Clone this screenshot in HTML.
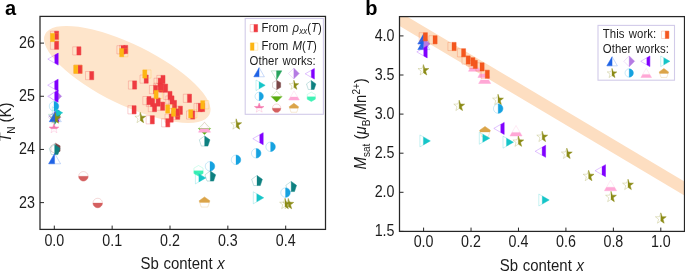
<!DOCTYPE html>
<html><head><meta charset="utf-8"><style>
html,body{margin:0;padding:0;background:#fff;}
body{width:685px;height:271px;overflow:hidden;font-family:"Liberation Sans",sans-serif;}
svg{display:block;will-change:transform;}
</style></head><body>
<svg width="685" height="271" viewBox="0 0 685 271">
<defs><clipPath id="ca"><rect x="40" y="16" width="286" height="213"/></clipPath><clipPath id="cb"><rect x="400" y="17" width="284" height="214"/></clipPath></defs>
<g clip-path="url(#ca)">
<ellipse cx="127.29" cy="74.39" rx="91.5" ry="30.19" transform="rotate(26.08 127.29 74.39)" fill="#fee5cb"/>
</g>
<polygon points="50.40,31.20 58.60,31.20 58.60,39.40 50.40,39.40" fill="none" stroke="#ee3a40" stroke-width="0.80" stroke-opacity="0.3"/><polygon points="54.50,31.20 58.60,31.20 58.60,39.40 54.50,39.40" fill="#ee3a40" stroke="#ee3a40" stroke-width="0.3"/>
<polygon points="50.40,41.10 58.60,41.10 58.60,49.30 50.40,49.30" fill="none" stroke="#ee3a40" stroke-width="0.80" stroke-opacity="0.3"/><polygon points="54.50,41.10 58.60,41.10 58.60,49.30 54.50,49.30" fill="#ee3a40" stroke="#ee3a40" stroke-width="0.3"/>
<polygon points="72.70,46.80 80.90,46.80 80.90,55.00 72.70,55.00" fill="none" stroke="#ee3a40" stroke-width="0.80" stroke-opacity="0.3"/><polygon points="76.80,46.80 80.90,46.80 80.90,55.00 76.80,55.00" fill="#ee3a40" stroke="#ee3a40" stroke-width="0.3"/>
<polygon points="73.90,65.20 82.10,65.20 82.10,73.40 73.90,73.40" fill="none" stroke="#ee3a40" stroke-width="0.80" stroke-opacity="0.3"/><polygon points="78.00,65.20 82.10,65.20 82.10,73.40 78.00,73.40" fill="#ee3a40" stroke="#ee3a40" stroke-width="0.3"/>
<polygon points="85.50,71.50 93.70,71.50 93.70,79.70 85.50,79.70" fill="none" stroke="#ee3a40" stroke-width="0.80" stroke-opacity="0.3"/><polygon points="89.60,71.50 93.70,71.50 93.70,79.70 89.60,79.70" fill="#ee3a40" stroke="#ee3a40" stroke-width="0.3"/>
<polygon points="116.90,45.70 125.10,45.70 125.10,53.90 116.90,53.90" fill="none" stroke="#ee3a40" stroke-width="0.80" stroke-opacity="0.3"/><polygon points="121.00,45.70 125.10,45.70 125.10,53.90 121.00,53.90" fill="#ee3a40" stroke="#ee3a40" stroke-width="0.3"/>
<polygon points="119.50,45.40 127.70,45.40 127.70,53.60 119.50,53.60" fill="none" stroke="#ee3a40" stroke-width="0.80" stroke-opacity="0.3"/><polygon points="123.60,45.40 127.70,45.40 127.70,53.60 123.60,53.60" fill="#ee3a40" stroke="#ee3a40" stroke-width="0.3"/>
<polygon points="128.40,80.90 136.60,80.90 136.60,89.10 128.40,89.10" fill="none" stroke="#ee3a40" stroke-width="0.80" stroke-opacity="0.3"/><polygon points="132.50,80.90 136.60,80.90 136.60,89.10 132.50,89.10" fill="#ee3a40" stroke="#ee3a40" stroke-width="0.3"/>
<polygon points="127.90,105.70 136.10,105.70 136.10,113.90 127.90,113.90" fill="none" stroke="#ee3a40" stroke-width="0.80" stroke-opacity="0.3"/><polygon points="132.00,105.70 136.10,105.70 136.10,113.90 132.00,113.90" fill="#ee3a40" stroke="#ee3a40" stroke-width="0.3"/>
<polygon points="140.00,75.00 148.20,75.00 148.20,83.20 140.00,83.20" fill="none" stroke="#ee3a40" stroke-width="0.80" stroke-opacity="0.3"/><polygon points="144.10,75.00 148.20,75.00 148.20,83.20 144.10,83.20" fill="#ee3a40" stroke="#ee3a40" stroke-width="0.3"/>
<polygon points="142.80,96.50 151.00,96.50 151.00,104.70 142.80,104.70" fill="none" stroke="#ee3a40" stroke-width="0.80" stroke-opacity="0.3"/><polygon points="146.90,96.50 151.00,96.50 151.00,104.70 146.90,104.70" fill="#ee3a40" stroke="#ee3a40" stroke-width="0.3"/>
<polygon points="146.40,98.40 154.60,98.40 154.60,106.60 146.40,106.60" fill="none" stroke="#ee3a40" stroke-width="0.80" stroke-opacity="0.3"/><polygon points="150.50,98.40 154.60,98.40 154.60,106.60 150.50,106.60" fill="#ee3a40" stroke="#ee3a40" stroke-width="0.3"/>
<polygon points="148.30,103.50 156.50,103.50 156.50,111.70 148.30,111.70" fill="none" stroke="#ee3a40" stroke-width="0.80" stroke-opacity="0.3"/><polygon points="152.40,103.50 156.50,103.50 156.50,111.70 152.40,111.70" fill="#ee3a40" stroke="#ee3a40" stroke-width="0.3"/>
<polygon points="152.00,98.00 160.20,98.00 160.20,106.20 152.00,106.20" fill="none" stroke="#ee3a40" stroke-width="0.80" stroke-opacity="0.3"/><polygon points="156.10,98.00 160.20,98.00 160.20,106.20 156.10,106.20" fill="#ee3a40" stroke="#ee3a40" stroke-width="0.3"/>
<polygon points="156.40,102.10 164.60,102.10 164.60,110.30 156.40,110.30" fill="none" stroke="#ee3a40" stroke-width="0.80" stroke-opacity="0.3"/><polygon points="160.50,102.10 164.60,102.10 164.60,110.30 160.50,110.30" fill="#ee3a40" stroke="#ee3a40" stroke-width="0.3"/>
<polygon points="146.10,115.70 154.30,115.70 154.30,123.90 146.10,123.90" fill="none" stroke="#ee3a40" stroke-width="0.80" stroke-opacity="0.3"/><polygon points="150.20,115.70 154.30,115.70 154.30,123.90 150.20,123.90" fill="#ee3a40" stroke="#ee3a40" stroke-width="0.3"/>
<polygon points="165.00,114.00 173.20,114.00 173.20,122.20 165.00,122.20" fill="none" stroke="#ee3a40" stroke-width="0.80" stroke-opacity="0.3"/><polygon points="169.10,114.00 173.20,114.00 173.20,122.20 169.10,122.20" fill="#ee3a40" stroke="#ee3a40" stroke-width="0.3"/>
<polygon points="154.00,78.20 162.20,78.20 162.20,86.40 154.00,86.40" fill="none" stroke="#ee3a40" stroke-width="0.80" stroke-opacity="0.3"/><polygon points="158.10,78.20 162.20,78.20 162.20,86.40 158.10,86.40" fill="#ee3a40" stroke="#ee3a40" stroke-width="0.3"/>
<polygon points="154.00,83.20 162.20,83.20 162.20,91.40 154.00,91.40" fill="none" stroke="#ee3a40" stroke-width="0.80" stroke-opacity="0.3"/><polygon points="158.10,83.20 162.20,83.20 162.20,91.40 158.10,91.40" fill="#ee3a40" stroke="#ee3a40" stroke-width="0.3"/>
<polygon points="156.80,75.40 165.00,75.40 165.00,83.60 156.80,83.60" fill="none" stroke="#ee3a40" stroke-width="0.80" stroke-opacity="0.3"/><polygon points="160.90,75.40 165.00,75.40 165.00,83.60 160.90,83.60" fill="#ee3a40" stroke="#ee3a40" stroke-width="0.3"/>
<polygon points="155.50,83.90 163.70,83.90 163.70,92.10 155.50,92.10" fill="none" stroke="#ee3a40" stroke-width="0.80" stroke-opacity="0.3"/><polygon points="159.60,83.90 163.70,83.90 163.70,92.10 159.60,92.10" fill="#ee3a40" stroke="#ee3a40" stroke-width="0.3"/>
<polygon points="159.40,84.10 167.60,84.10 167.60,92.30 159.40,92.30" fill="none" stroke="#ee3a40" stroke-width="0.80" stroke-opacity="0.3"/><polygon points="163.50,84.10 167.60,84.10 167.60,92.30 163.50,92.30" fill="#ee3a40" stroke="#ee3a40" stroke-width="0.3"/>
<polygon points="149.40,85.50 157.60,85.50 157.60,93.70 149.40,93.70" fill="none" stroke="#ee3a40" stroke-width="0.80" stroke-opacity="0.3"/><polygon points="153.50,85.50 157.60,85.50 157.60,93.70 153.50,93.70" fill="#ee3a40" stroke="#ee3a40" stroke-width="0.3"/>
<polygon points="163.80,91.40 172.00,91.40 172.00,99.60 163.80,99.60" fill="none" stroke="#ee3a40" stroke-width="0.80" stroke-opacity="0.3"/><polygon points="167.90,91.40 172.00,91.40 172.00,99.60 167.90,99.60" fill="#ee3a40" stroke="#ee3a40" stroke-width="0.3"/>
<polygon points="165.80,95.90 174.00,95.90 174.00,104.10 165.80,104.10" fill="none" stroke="#ee3a40" stroke-width="0.80" stroke-opacity="0.3"/><polygon points="169.90,95.90 174.00,95.90 174.00,104.10 169.90,104.10" fill="#ee3a40" stroke="#ee3a40" stroke-width="0.3"/>
<polygon points="168.30,100.40 176.50,100.40 176.50,108.60 168.30,108.60" fill="none" stroke="#ee3a40" stroke-width="0.80" stroke-opacity="0.3"/><polygon points="172.40,100.40 176.50,100.40 176.50,108.60 172.40,108.60" fill="#ee3a40" stroke="#ee3a40" stroke-width="0.3"/>
<polygon points="171.50,108.90 179.70,108.90 179.70,117.10 171.50,117.10" fill="none" stroke="#ee3a40" stroke-width="0.80" stroke-opacity="0.3"/><polygon points="175.60,108.90 179.70,108.90 179.70,117.10 175.60,117.10" fill="#ee3a40" stroke="#ee3a40" stroke-width="0.3"/>
<polygon points="171.50,111.10 179.70,111.10 179.70,119.30 171.50,119.30" fill="none" stroke="#ee3a40" stroke-width="0.80" stroke-opacity="0.3"/><polygon points="175.60,111.10 179.70,111.10 179.70,119.30 175.60,119.30" fill="#ee3a40" stroke="#ee3a40" stroke-width="0.3"/>
<polygon points="174.20,106.20 182.40,106.20 182.40,114.40 174.20,114.40" fill="none" stroke="#ee3a40" stroke-width="0.80" stroke-opacity="0.3"/><polygon points="178.30,106.20 182.40,106.20 182.40,114.40 178.30,114.40" fill="#ee3a40" stroke="#ee3a40" stroke-width="0.3"/>
<polygon points="183.30,94.20 191.50,94.20 191.50,102.40 183.30,102.40" fill="none" stroke="#ee3a40" stroke-width="0.80" stroke-opacity="0.3"/><polygon points="187.40,94.20 191.50,94.20 191.50,102.40 187.40,102.40" fill="#ee3a40" stroke="#ee3a40" stroke-width="0.3"/>
<polygon points="186.50,110.90 194.70,110.90 194.70,119.10 186.50,119.10" fill="none" stroke="#ee3a40" stroke-width="0.80" stroke-opacity="0.3"/><polygon points="190.60,110.90 194.70,110.90 194.70,119.10 190.60,119.10" fill="#ee3a40" stroke="#ee3a40" stroke-width="0.3"/>
<polygon points="194.00,103.40 202.20,103.40 202.20,111.60 194.00,111.60" fill="none" stroke="#ee3a40" stroke-width="0.80" stroke-opacity="0.3"/><polygon points="198.10,103.40 202.20,103.40 202.20,111.60 198.10,111.60" fill="#ee3a40" stroke="#ee3a40" stroke-width="0.3"/>
<polygon points="196.40,103.40 204.60,103.40 204.60,111.60 196.40,111.60" fill="none" stroke="#ee3a40" stroke-width="0.80" stroke-opacity="0.3"/><polygon points="200.50,103.40 204.60,103.40 204.60,111.60 200.50,111.60" fill="#ee3a40" stroke="#ee3a40" stroke-width="0.3"/>
<polygon points="161.60,118.70 169.80,118.70 169.80,126.90 161.60,126.90" fill="none" stroke="#ee3a40" stroke-width="0.80" stroke-opacity="0.3"/><polygon points="165.70,118.70 169.80,118.70 169.80,126.90 165.70,126.90" fill="#ee3a40" stroke="#ee3a40" stroke-width="0.3"/>
<polygon points="50.50,33.40 58.70,33.40 58.70,41.60 50.50,41.60" fill="none" stroke="#fdb614" stroke-width="0.80" stroke-opacity="0.3"/><polygon points="50.50,33.40 54.60,33.40 54.60,41.60 50.50,41.60" fill="#fdb614" stroke="#fdb614" stroke-width="0.3"/>
<polygon points="73.80,65.20 82.00,65.20 82.00,73.40 73.80,73.40" fill="none" stroke="#fdb614" stroke-width="0.80" stroke-opacity="0.3"/><polygon points="73.80,65.20 77.90,65.20 77.90,73.40 73.80,73.40" fill="#fdb614" stroke="#fdb614" stroke-width="0.3"/>
<polygon points="119.70,48.60 127.90,48.60 127.90,56.80 119.70,56.80" fill="none" stroke="#fdb614" stroke-width="0.80" stroke-opacity="0.3"/><polygon points="119.70,48.60 123.80,48.60 123.80,56.80 119.70,56.80" fill="#fdb614" stroke="#fdb614" stroke-width="0.3"/>
<polygon points="142.80,69.90 151.00,69.90 151.00,78.10 142.80,78.10" fill="none" stroke="#fdb614" stroke-width="0.80" stroke-opacity="0.3"/><polygon points="142.80,69.90 146.90,69.90 146.90,78.10 142.80,78.10" fill="#fdb614" stroke="#fdb614" stroke-width="0.3"/>
<polygon points="154.10,90.40 162.30,90.40 162.30,98.60 154.10,98.60" fill="none" stroke="#fdb614" stroke-width="0.80" stroke-opacity="0.3"/><polygon points="154.10,90.40 158.20,90.40 158.20,98.60 154.10,98.60" fill="#fdb614" stroke="#fdb614" stroke-width="0.3"/>
<polygon points="165.70,104.90 173.90,104.90 173.90,113.10 165.70,113.10" fill="none" stroke="#fdb614" stroke-width="0.80" stroke-opacity="0.3"/><polygon points="165.70,104.90 169.80,104.90 169.80,113.10 165.70,113.10" fill="#fdb614" stroke="#fdb614" stroke-width="0.3"/>
<polygon points="171.50,108.10 179.70,108.10 179.70,116.30 171.50,116.30" fill="none" stroke="#fdb614" stroke-width="0.80" stroke-opacity="0.3"/><polygon points="171.50,108.10 175.60,108.10 175.60,116.30 171.50,116.30" fill="#fdb614" stroke="#fdb614" stroke-width="0.3"/>
<polygon points="188.70,109.70 196.90,109.70 196.90,117.90 188.70,117.90" fill="none" stroke="#fdb614" stroke-width="0.80" stroke-opacity="0.3"/><polygon points="188.70,109.70 192.80,109.70 192.80,117.90 188.70,117.90" fill="#fdb614" stroke="#fdb614" stroke-width="0.3"/>
<polygon points="200.70,100.70 208.90,100.70 208.90,108.90 200.70,108.90" fill="none" stroke="#fdb614" stroke-width="0.80" stroke-opacity="0.3"/><polygon points="200.70,100.70 204.80,100.70 204.80,108.90 200.70,108.90" fill="#fdb614" stroke="#fdb614" stroke-width="0.3"/>
<polygon points="47.80,59.10 58.20,53.10 58.20,65.10" fill="none" stroke="#8000ff" stroke-width="0.80" stroke-opacity="0.3"/><polygon points="54.73,55.10 58.20,53.10 58.20,65.10 54.73,63.10" fill="#8000ff" stroke="#8000ff" stroke-width="0.3"/>
<polygon points="47.70,85.20 58.10,79.20 58.10,91.20" fill="none" stroke="#8000ff" stroke-width="0.80" stroke-opacity="0.3"/><polygon points="54.63,81.20 58.10,79.20 58.10,91.20 54.63,89.20" fill="#8000ff" stroke="#8000ff" stroke-width="0.3"/>
<polygon points="55.50,90.20 61.60,96.30 55.50,102.40 49.40,96.30" fill="none" stroke="#b57be3" stroke-width="0.80" stroke-opacity="0.3"/><polygon points="55.50,90.20 61.60,96.30 55.50,102.40 55.50,102.40 55.50,90.20" fill="#b57be3" stroke="#b57be3" stroke-width="0.3"/>
<polygon points="47.70,96.30 58.10,90.30 58.10,102.30" fill="none" stroke="#8000ff" stroke-width="0.80" stroke-opacity="0.3"/><polygon points="54.63,92.30 58.10,90.30 58.10,102.30 54.63,100.30" fill="#8000ff" stroke="#8000ff" stroke-width="0.3"/>
<polygon points="48.60,116.00 59.00,110.00 59.00,122.00" fill="none" stroke="#8000ff" stroke-width="0.80" stroke-opacity="0.3"/><polygon points="55.53,112.00 59.00,110.00 59.00,122.00 55.53,120.00" fill="#8000ff" stroke="#8000ff" stroke-width="0.3"/>
<polygon points="54.60,111.40 60.70,117.50 54.60,123.60 48.50,117.50" fill="none" stroke="#b57be3" stroke-width="0.80" stroke-opacity="0.3"/><polygon points="54.60,111.40 60.70,117.50 54.60,123.60 54.60,123.60 54.60,111.40" fill="#b57be3" stroke="#b57be3" stroke-width="0.3"/>
<polygon points="48.60,114.30 60.60,114.30 54.60,124.70" fill="none" stroke="#27a35c" stroke-width="0.80" stroke-opacity="0.3"/><polygon points="54.60,114.30 60.60,114.30 54.60,124.70 54.60,124.70" fill="#27a35c" stroke="#27a35c" stroke-width="0.3"/>
<polygon points="58.70,106.30 58.64,107.04 58.47,107.75 58.19,108.43 57.80,109.06 57.32,109.62 56.76,110.10 56.13,110.49 55.45,110.77 54.74,110.94 54.00,111.00 53.26,110.94 52.55,110.77 51.87,110.49 51.24,110.10 50.68,109.62 50.20,109.06 49.81,108.43 49.53,107.75 49.36,107.04 49.30,106.30 49.36,105.56 49.53,104.85 49.81,104.17 50.20,103.54 50.68,102.98 51.24,102.50 51.87,102.11 52.55,101.83 53.26,101.66 54.00,101.60 54.74,101.66 55.45,101.83 56.13,102.11 56.76,102.50 57.32,102.98 57.80,103.54 58.19,104.17 58.47,104.85 58.64,105.56" fill="none" stroke="#16a2e0" stroke-width="0.80" stroke-opacity="0.3"/><polygon points="58.70,106.30 58.64,107.04 58.47,107.75 58.19,108.43 57.80,109.06 57.32,109.62 56.76,110.10 56.13,110.49 55.45,110.77 54.74,110.94 54.00,111.00 54.00,111.00 54.00,101.60 54.00,101.60 54.74,101.66 55.45,101.83 56.13,102.11 56.76,102.50 57.32,102.98 57.80,103.54 58.19,104.17 58.47,104.85 58.64,105.56" fill="#16a2e0" stroke="#16a2e0" stroke-width="0.3"/>
<polygon points="52.30,106.80 62.70,112.80 52.30,118.80" fill="none" stroke="#15c5c8" stroke-width="0.80" stroke-opacity="0.3"/><polygon points="55.77,108.80 62.70,112.80 55.77,116.80" fill="#15c5c8" stroke="#15c5c8" stroke-width="0.3"/>
<polygon points="55.30,111.30 61.30,121.70 49.30,121.70" fill="none" stroke="#1f63e6" stroke-width="0.80" stroke-opacity="0.3"/><polygon points="55.30,111.30 55.30,111.30 55.30,121.70 49.30,121.70" fill="#1f63e6" stroke="#1f63e6" stroke-width="0.3"/>
<polygon points="55.20,112.84 56.57,116.65 60.62,116.78 57.42,119.27 58.55,123.16 55.20,120.88 51.85,123.16 52.98,119.27 49.78,116.78 53.83,116.65" fill="none" stroke="#8b8b16" stroke-width="0.80" stroke-opacity="0.3"/><polygon points="55.20,112.84 56.57,116.65 60.62,116.78 57.42,119.27 58.55,123.16 55.20,120.88 55.20,120.88 55.20,112.84" fill="#8b8b16" stroke="#8b8b16" stroke-width="0.3"/>
<polygon points="54.00,123.66 55.21,127.02 58.77,127.13 55.96,129.31 56.95,132.74 54.00,130.74 51.05,132.74 52.04,129.31 49.23,127.13 52.79,127.02" fill="none" stroke="#f578ae" stroke-width="0.80" stroke-opacity="0.3"/><polygon points="54.00,123.66 55.21,127.02 58.77,127.13 56.77,128.68 51.23,128.68 49.23,127.13 52.79,127.02" fill="#f578ae" stroke="#f578ae" stroke-width="0.3"/>
<polygon points="55.50,143.20 60.09,145.85 60.09,151.15 55.50,153.80 50.91,151.15 50.91,145.85" fill="none" stroke="#7b4646" stroke-width="0.80" stroke-opacity="0.3"/><polygon points="55.50,143.20 60.09,145.85 60.09,151.15 55.50,153.80 55.50,153.80 55.50,143.20" fill="#7b4646" stroke="#7b4646" stroke-width="0.3"/>
<polygon points="54.60,144.43 59.93,148.30 57.89,154.57 51.31,154.57 49.27,148.30" fill="none" stroke="#0e8080" stroke-width="0.80" stroke-opacity="0.3"/><polygon points="54.60,144.43 59.93,148.30 57.89,154.57 54.60,154.57 54.60,144.43" fill="#0e8080" stroke="#0e8080" stroke-width="0.3"/>
<polygon points="54.60,153.40 60.60,163.80 48.60,163.80" fill="none" stroke="#1f63e6" stroke-width="0.80" stroke-opacity="0.3"/><polygon points="54.60,153.40 54.60,153.40 54.60,163.80 48.60,163.80" fill="#1f63e6" stroke="#1f63e6" stroke-width="0.3"/>
<polygon points="88.10,176.30 88.04,177.04 87.87,177.75 87.59,178.43 87.20,179.06 86.72,179.62 86.16,180.10 85.53,180.49 84.85,180.77 84.14,180.94 83.40,181.00 82.66,180.94 81.95,180.77 81.27,180.49 80.64,180.10 80.08,179.62 79.60,179.06 79.21,178.43 78.93,177.75 78.76,177.04 78.70,176.30 78.76,175.56 78.93,174.85 79.21,174.17 79.60,173.54 80.08,172.98 80.64,172.50 81.27,172.11 81.95,171.83 82.66,171.66 83.40,171.60 84.14,171.66 84.85,171.83 85.53,172.11 86.16,172.50 86.72,172.98 87.20,173.54 87.59,174.17 87.87,174.85 88.04,175.56" fill="none" stroke="#d45f5f" stroke-width="0.80" stroke-opacity="0.3"/><polygon points="88.10,176.30 88.04,177.04 87.87,177.75 87.59,178.43 87.20,179.06 86.72,179.62 86.16,180.10 85.53,180.49 84.85,180.77 84.14,180.94 83.40,181.00 82.66,180.94 81.95,180.77 81.27,180.49 80.64,180.10 80.08,179.62 79.60,179.06 79.21,178.43 78.93,177.75 78.76,177.04 78.70,176.30 78.70,176.30 88.10,176.30" fill="#d45f5f" stroke="#d45f5f" stroke-width="0.3"/>
<polygon points="102.40,203.00 102.34,203.74 102.17,204.45 101.89,205.13 101.50,205.76 101.02,206.32 100.46,206.80 99.83,207.19 99.15,207.47 98.44,207.64 97.70,207.70 96.96,207.64 96.25,207.47 95.57,207.19 94.94,206.80 94.38,206.32 93.90,205.76 93.51,205.13 93.23,204.45 93.06,203.74 93.00,203.00 93.06,202.26 93.23,201.55 93.51,200.87 93.90,200.24 94.38,199.68 94.94,199.20 95.57,198.81 96.25,198.53 96.96,198.36 97.70,198.30 98.44,198.36 99.15,198.53 99.83,198.81 100.46,199.20 101.02,199.68 101.50,200.24 101.89,200.87 102.17,201.55 102.34,202.26" fill="none" stroke="#d45f5f" stroke-width="0.80" stroke-opacity="0.3"/><polygon points="102.40,203.00 102.34,203.74 102.17,204.45 101.89,205.13 101.50,205.76 101.02,206.32 100.46,206.80 99.83,207.19 99.15,207.47 98.44,207.64 97.70,207.70 96.96,207.64 96.25,207.47 95.57,207.19 94.94,206.80 94.38,206.32 93.90,205.76 93.51,205.13 93.23,204.45 93.06,203.74 93.00,203.00 93.00,203.00 102.40,203.00" fill="#d45f5f" stroke="#d45f5f" stroke-width="0.3"/>
<polygon points="140.30,112.34 141.67,116.15 145.72,116.28 142.52,118.77 143.65,122.66 140.30,120.38 136.95,122.66 138.08,118.77 134.88,116.28 138.93,116.15" fill="none" stroke="#8b8b16" stroke-width="0.80" stroke-opacity="0.3"/><polygon points="140.30,112.34 141.67,116.15 145.72,116.28 142.52,118.77 143.65,122.66 140.30,120.38 140.30,120.38 140.30,112.34" fill="#8b8b16" stroke="#8b8b16" stroke-width="0.3"/>
<polygon points="204.50,122.40 210.60,128.50 204.50,134.60 198.40,128.50" fill="none" stroke="#5aad0f" stroke-width="0.80" stroke-opacity="0.3"/><polygon points="210.60,128.50 210.60,128.50 204.50,134.60 198.40,128.50 198.40,128.50" fill="#5aad0f" stroke="#5aad0f" stroke-width="0.3"/>
<polygon points="204.50,121.80 210.50,132.20 198.50,132.20" fill="none" stroke="#ffa8d6" stroke-width="0.80" stroke-opacity="0.3"/><polygon points="208.50,128.73 210.50,132.20 198.50,132.20 200.50,128.73" fill="#ffa8d6" stroke="#ffa8d6" stroke-width="0.3"/>
<polygon points="204.60,135.93 209.93,139.80 207.89,146.07 201.31,146.07 199.27,139.80" fill="none" stroke="#0e8080" stroke-width="0.80" stroke-opacity="0.3"/><polygon points="204.60,135.93 209.93,139.80 207.89,146.07 204.60,146.07 204.60,135.93" fill="#0e8080" stroke="#0e8080" stroke-width="0.3"/>
<polygon points="236.20,118.84 237.57,122.65 241.62,122.78 238.42,125.27 239.55,129.16 236.20,126.88 232.85,129.16 233.98,125.27 230.78,122.78 234.83,122.65" fill="none" stroke="#8b8b16" stroke-width="0.80" stroke-opacity="0.3"/><polygon points="236.20,118.84 237.57,122.65 241.62,122.78 238.42,125.27 239.55,129.16 236.20,126.88 236.20,126.88 236.20,118.84" fill="#8b8b16" stroke="#8b8b16" stroke-width="0.3"/>
<polygon points="252.80,138.70 263.20,132.70 263.20,144.70" fill="none" stroke="#8000ff" stroke-width="0.80" stroke-opacity="0.3"/><polygon points="259.73,134.70 263.20,132.70 263.20,144.70 259.73,142.70" fill="#8000ff" stroke="#8000ff" stroke-width="0.3"/>
<polygon points="275.30,146.80 275.24,147.54 275.07,148.25 274.79,148.93 274.40,149.56 273.92,150.12 273.36,150.60 272.73,150.99 272.05,151.27 271.34,151.44 270.60,151.50 269.86,151.44 269.15,151.27 268.47,150.99 267.84,150.60 267.28,150.12 266.80,149.56 266.41,148.93 266.13,148.25 265.96,147.54 265.90,146.80 265.96,146.06 266.13,145.35 266.41,144.67 266.80,144.04 267.28,143.48 267.84,143.00 268.47,142.61 269.15,142.33 269.86,142.16 270.60,142.10 271.34,142.16 272.05,142.33 272.73,142.61 273.36,143.00 273.92,143.48 274.40,144.04 274.79,144.67 275.07,145.35 275.24,146.06" fill="none" stroke="#16a2e0" stroke-width="0.80" stroke-opacity="0.3"/><polygon points="275.30,146.80 275.24,147.54 275.07,148.25 274.79,148.93 274.40,149.56 273.92,150.12 273.36,150.60 272.73,150.99 272.05,151.27 271.34,151.44 270.60,151.50 270.60,151.50 270.60,142.10 270.60,142.10 271.34,142.16 272.05,142.33 272.73,142.61 273.36,143.00 273.92,143.48 274.40,144.04 274.79,144.67 275.07,145.35 275.24,146.06" fill="#16a2e0" stroke="#16a2e0" stroke-width="0.3"/>
<polygon points="260.90,153.30 260.84,154.04 260.67,154.75 260.39,155.43 260.00,156.06 259.52,156.62 258.96,157.10 258.33,157.49 257.65,157.77 256.94,157.94 256.20,158.00 255.46,157.94 254.75,157.77 254.07,157.49 253.44,157.10 252.88,156.62 252.40,156.06 252.01,155.43 251.73,154.75 251.56,154.04 251.50,153.30 251.56,152.56 251.73,151.85 252.01,151.17 252.40,150.54 252.88,149.98 253.44,149.50 254.07,149.11 254.75,148.83 255.46,148.66 256.20,148.60 256.94,148.66 257.65,148.83 258.33,149.11 258.96,149.50 259.52,149.98 260.00,150.54 260.39,151.17 260.67,151.85 260.84,152.56" fill="none" stroke="#16a2e0" stroke-width="0.80" stroke-opacity="0.3"/><polygon points="260.90,153.30 260.84,154.04 260.67,154.75 260.39,155.43 260.00,156.06 259.52,156.62 258.96,157.10 258.33,157.49 257.65,157.77 256.94,157.94 256.20,158.00 256.20,158.00 256.20,148.60 256.20,148.60 256.94,148.66 257.65,148.83 258.33,149.11 258.96,149.50 259.52,149.98 260.00,150.54 260.39,151.17 260.67,151.85 260.84,152.56" fill="#16a2e0" stroke="#16a2e0" stroke-width="0.3"/>
<polygon points="240.70,159.80 240.64,160.54 240.47,161.25 240.19,161.93 239.80,162.56 239.32,163.12 238.76,163.60 238.13,163.99 237.45,164.27 236.74,164.44 236.00,164.50 235.26,164.44 234.55,164.27 233.87,163.99 233.24,163.60 232.68,163.12 232.20,162.56 231.81,161.93 231.53,161.25 231.36,160.54 231.30,159.80 231.36,159.06 231.53,158.35 231.81,157.67 232.20,157.04 232.68,156.48 233.24,156.00 233.87,155.61 234.55,155.33 235.26,155.16 236.00,155.10 236.74,155.16 237.45,155.33 238.13,155.61 238.76,156.00 239.32,156.48 239.80,157.04 240.19,157.67 240.47,158.35 240.64,159.06" fill="none" stroke="#16a2e0" stroke-width="0.80" stroke-opacity="0.3"/><polygon points="240.70,159.80 240.64,160.54 240.47,161.25 240.19,161.93 239.80,162.56 239.32,163.12 238.76,163.60 238.13,163.99 237.45,164.27 236.74,164.44 236.00,164.50 236.00,164.50 236.00,155.10 236.00,155.10 236.74,155.16 237.45,155.33 238.13,155.61 238.76,156.00 239.32,156.48 239.80,157.04 240.19,157.67 240.47,158.35 240.64,159.06" fill="#16a2e0" stroke="#16a2e0" stroke-width="0.3"/>
<polygon points="214.70,166.30 214.64,167.04 214.47,167.75 214.19,168.43 213.80,169.06 213.32,169.62 212.76,170.10 212.13,170.49 211.45,170.77 210.74,170.94 210.00,171.00 209.26,170.94 208.55,170.77 207.87,170.49 207.24,170.10 206.68,169.62 206.20,169.06 205.81,168.43 205.53,167.75 205.36,167.04 205.30,166.30 205.36,165.56 205.53,164.85 205.81,164.17 206.20,163.54 206.68,162.98 207.24,162.50 207.87,162.11 208.55,161.83 209.26,161.66 210.00,161.60 210.74,161.66 211.45,161.83 212.13,162.11 212.76,162.50 213.32,162.98 213.80,163.54 214.19,164.17 214.47,164.85 214.64,165.56" fill="none" stroke="#16a2e0" stroke-width="0.80" stroke-opacity="0.3"/><polygon points="214.70,166.30 214.64,167.04 214.47,167.75 214.19,168.43 213.80,169.06 213.32,169.62 212.76,170.10 212.13,170.49 211.45,170.77 210.74,170.94 210.00,171.00 210.00,171.00 210.00,161.60 210.00,161.60 210.74,161.66 211.45,161.83 212.13,162.11 212.76,162.50 213.32,162.98 213.80,163.54 214.19,164.17 214.47,164.85 214.64,165.56" fill="#16a2e0" stroke="#16a2e0" stroke-width="0.3"/>
<polygon points="198.50,165.50 203.09,168.15 203.09,173.45 198.50,176.10 193.91,173.45 193.91,168.15" fill="none" stroke="#3ef2b4" stroke-width="0.80" stroke-opacity="0.3"/><polygon points="203.09,170.80 203.09,173.45 198.50,176.10 193.91,173.45 193.91,170.80" fill="#3ef2b4" stroke="#3ef2b4" stroke-width="0.3"/>
<polygon points="195.40,171.90 205.80,177.90 195.40,183.90" fill="none" stroke="#15c5c8" stroke-width="0.80" stroke-opacity="0.3"/><polygon points="198.87,173.90 205.80,177.90 198.87,181.90" fill="#15c5c8" stroke="#15c5c8" stroke-width="0.3"/>
<polygon points="210.30,170.93 215.63,174.80 213.59,181.07 207.01,181.07 204.97,174.80" fill="none" stroke="#0e8080" stroke-width="0.80" stroke-opacity="0.3"/><polygon points="210.30,170.93 215.63,174.80 213.59,181.07 210.30,181.07 210.30,170.93" fill="#0e8080" stroke="#0e8080" stroke-width="0.3"/>
<polygon points="257.00,175.43 262.33,179.30 260.29,185.57 253.71,185.57 251.67,179.30" fill="none" stroke="#0e8080" stroke-width="0.80" stroke-opacity="0.3"/><polygon points="257.00,175.43 262.33,179.30 260.29,185.57 257.00,185.57 257.00,175.43" fill="#0e8080" stroke="#0e8080" stroke-width="0.3"/>
<polygon points="253.30,191.80 263.70,197.80 253.30,203.80" fill="none" stroke="#15c5c8" stroke-width="0.80" stroke-opacity="0.3"/><polygon points="256.77,193.80 263.70,197.80 256.77,201.80" fill="#15c5c8" stroke="#15c5c8" stroke-width="0.3"/>
<polygon points="204.50,196.93 209.83,200.80 207.79,207.07 201.21,207.07 199.17,200.80" fill="none" stroke="#dba449" stroke-width="0.80" stroke-opacity="0.3"/><polygon points="204.50,196.93 209.83,200.80 209.26,202.53 199.74,202.53 199.17,200.80" fill="#dba449" stroke="#dba449" stroke-width="0.3"/>
<polygon points="291.20,181.43 296.53,185.30 294.49,191.57 287.91,191.57 285.87,185.30" fill="none" stroke="#0e8080" stroke-width="0.80" stroke-opacity="0.3"/><polygon points="291.20,181.43 296.53,185.30 294.49,191.57 291.20,191.57 291.20,181.43" fill="#0e8080" stroke="#0e8080" stroke-width="0.3"/>
<polygon points="290.20,192.60 290.14,193.34 289.97,194.05 289.69,194.73 289.30,195.36 288.82,195.92 288.26,196.40 287.63,196.79 286.95,197.07 286.24,197.24 285.50,197.30 284.76,197.24 284.05,197.07 283.37,196.79 282.74,196.40 282.18,195.92 281.70,195.36 281.31,194.73 281.03,194.05 280.86,193.34 280.80,192.60 280.86,191.86 281.03,191.15 281.31,190.47 281.70,189.84 282.18,189.28 282.74,188.80 283.37,188.41 284.05,188.13 284.76,187.96 285.50,187.90 286.24,187.96 286.95,188.13 287.63,188.41 288.26,188.80 288.82,189.28 289.30,189.84 289.69,190.47 289.97,191.15 290.14,191.86" fill="none" stroke="#16a2e0" stroke-width="0.80" stroke-opacity="0.3"/><polygon points="290.20,192.60 290.14,193.34 289.97,194.05 289.69,194.73 289.30,195.36 288.82,195.92 288.26,196.40 287.63,196.79 286.95,197.07 286.24,197.24 285.50,197.30 285.50,197.30 285.50,187.90 285.50,187.90 286.24,187.96 286.95,188.13 287.63,188.41 288.26,188.80 288.82,189.28 289.30,189.84 289.69,190.47 289.97,191.15 290.14,191.86" fill="#16a2e0" stroke="#16a2e0" stroke-width="0.3"/>
<polygon points="285.00,198.34 286.37,202.15 290.42,202.28 287.22,204.77 288.35,208.66 285.00,206.38 281.65,208.66 282.78,204.77 279.58,202.28 283.63,202.15" fill="none" stroke="#8b8b16" stroke-width="0.80" stroke-opacity="0.3"/><polygon points="285.00,198.34 286.37,202.15 290.42,202.28 287.22,204.77 288.35,208.66 285.00,206.38 285.00,206.38 285.00,198.34" fill="#8b8b16" stroke="#8b8b16" stroke-width="0.3"/>
<polygon points="288.30,198.44 289.67,202.25 293.72,202.38 290.52,204.87 291.65,208.76 288.30,206.48 284.95,208.76 286.08,204.87 282.88,202.38 286.93,202.25" fill="none" stroke="#8b8b16" stroke-width="0.80" stroke-opacity="0.3"/><polygon points="288.30,198.44 289.67,202.25 293.72,202.38 290.52,204.87 291.65,208.76 288.30,206.48 288.30,206.48 288.30,198.44" fill="#8b8b16" stroke="#8b8b16" stroke-width="0.3"/>
<rect x="245.2" y="18.5" width="78.2" height="95.8" fill="#ffffff" stroke="#d2cbe9" stroke-width="1.1"/>
<polygon points="250.21,24.51 257.59,24.51 257.59,31.89 250.21,31.89" fill="none" stroke="#ee3a40" stroke-width="0.80" stroke-opacity="0.3"/><polygon points="253.90,24.51 257.59,24.51 257.59,31.89 253.90,31.89" fill="#ee3a40" stroke="#ee3a40" stroke-width="0.3"/>
<polygon points="250.41,42.91 257.79,42.91 257.79,50.29 250.41,50.29" fill="none" stroke="#fdb614" stroke-width="0.80" stroke-opacity="0.3"/><polygon points="250.41,42.91 254.10,42.91 254.10,50.29 250.41,50.29" fill="#fdb614" stroke="#fdb614" stroke-width="0.3"/>
<text transform="translate(261.50 31.60) scale(1 1.100)"   font-size="11.4" letter-spacing="0.03" word-spacing="1.2" font-family="Liberation Sans, sans-serif" fill="#1c1c1c">From <tspan font-style="italic">&#961;</tspan><tspan font-style="italic" font-size="8" dy="2.5">xx</tspan><tspan dy="-2.5">(</tspan><tspan font-style="italic">T</tspan>)</text>
<text transform="translate(261.50 50.10) scale(1 1.100)"   font-size="11.4" letter-spacing="0.03" word-spacing="1.2" font-family="Liberation Sans, sans-serif" fill="#1c1c1c">From <tspan font-style="italic">M</tspan>(<tspan font-style="italic">T</tspan>)</text>
<text transform="translate(249.60 64.90) scale(1 1.100)"   font-size="11.4" letter-spacing="0.03" word-spacing="1.2" font-family="Liberation Sans, sans-serif" fill="#1c1c1c">Other works:</text>
<polygon points="259.10,67.63 264.38,76.77 253.82,76.77" fill="none" stroke="#1f63e6" stroke-width="0.80" stroke-opacity="0.3"/><polygon points="259.10,67.63 259.10,67.63 259.10,76.77 253.82,76.77" fill="#1f63e6" stroke="#1f63e6" stroke-width="0.3"/>
<polygon points="271.22,70.83 281.78,70.83 276.50,79.97" fill="none" stroke="#27a35c" stroke-width="0.80" stroke-opacity="0.3"/><polygon points="276.50,70.83 281.78,70.83 276.50,79.97 276.50,79.97" fill="#27a35c" stroke="#27a35c" stroke-width="0.3"/>
<polygon points="293.80,68.13 299.17,73.50 293.80,78.87 288.43,73.50" fill="none" stroke="#b57be3" stroke-width="0.80" stroke-opacity="0.3"/><polygon points="293.80,68.13 299.17,73.50 293.80,78.87 293.80,78.87 293.80,68.13" fill="#b57be3" stroke="#b57be3" stroke-width="0.3"/>
<polygon points="305.23,73.80 314.37,68.52 314.37,79.08" fill="none" stroke="#8000ff" stroke-width="0.80" stroke-opacity="0.3"/><polygon points="311.32,70.28 314.37,68.52 314.37,79.08 311.32,77.32" fill="#8000ff" stroke="#8000ff" stroke-width="0.3"/>
<polygon points="256.03,80.02 265.17,85.30 256.03,90.58" fill="none" stroke="#15c5c8" stroke-width="0.80" stroke-opacity="0.3"/><polygon points="259.08,81.78 265.17,85.30 259.08,88.82" fill="#15c5c8" stroke="#15c5c8" stroke-width="0.3"/>
<polygon points="276.60,80.34 280.64,82.67 280.64,87.33 276.60,89.66 272.56,87.33 272.56,82.67" fill="none" stroke="#7b4646" stroke-width="0.80" stroke-opacity="0.3"/><polygon points="276.60,80.34 280.64,82.67 280.64,87.33 276.60,89.66 276.60,89.66 276.60,80.34" fill="#7b4646" stroke="#7b4646" stroke-width="0.3"/>
<polygon points="293.90,80.26 295.11,83.62 298.67,83.73 295.86,85.91 296.85,89.34 293.90,87.34 290.95,89.34 291.94,85.91 289.13,83.73 292.69,83.62" fill="none" stroke="#8b8b16" stroke-width="0.80" stroke-opacity="0.3"/><polygon points="293.90,80.26 295.11,83.62 298.67,83.73 295.86,85.91 296.85,89.34 293.90,87.34 293.90,87.34 293.90,80.26" fill="#8b8b16" stroke="#8b8b16" stroke-width="0.3"/>
<polygon points="311.20,80.54 315.89,83.95 314.10,89.46 308.30,89.46 306.51,83.95" fill="none" stroke="#0e8080" stroke-width="0.80" stroke-opacity="0.3"/><polygon points="311.20,80.54 315.89,83.95 314.10,89.46 311.20,89.46 311.20,80.54" fill="#0e8080" stroke="#0e8080" stroke-width="0.3"/>
<polygon points="263.34,96.30 263.29,96.95 263.13,97.58 262.89,98.18 262.55,98.73 262.12,99.22 261.63,99.65 261.08,99.99 260.48,100.23 259.85,100.39 259.20,100.44 258.55,100.39 257.92,100.23 257.32,99.99 256.77,99.65 256.28,99.22 255.85,98.73 255.51,98.18 255.27,97.58 255.11,96.95 255.06,96.30 255.11,95.65 255.27,95.02 255.51,94.42 255.85,93.87 256.28,93.38 256.77,92.95 257.32,92.61 257.92,92.37 258.55,92.21 259.20,92.16 259.85,92.21 260.48,92.37 261.08,92.61 261.63,92.95 262.12,93.38 262.55,93.87 262.89,94.42 263.13,95.02 263.29,95.65" fill="none" stroke="#16a2e0" stroke-width="0.80" stroke-opacity="0.3"/><polygon points="263.34,96.30 263.29,96.95 263.13,97.58 262.89,98.18 262.55,98.73 262.12,99.22 261.63,99.65 261.08,99.99 260.48,100.23 259.85,100.39 259.20,100.44 259.20,100.44 259.20,92.16 259.20,92.16 259.85,92.21 260.48,92.37 261.08,92.61 261.63,92.95 262.12,93.38 262.55,93.87 262.89,94.42 263.13,95.02 263.29,95.65" fill="#16a2e0" stroke="#16a2e0" stroke-width="0.3"/>
<polygon points="276.60,91.23 281.97,96.60 276.60,101.97 271.23,96.60" fill="none" stroke="#5aad0f" stroke-width="0.80" stroke-opacity="0.3"/><polygon points="281.97,96.60 281.97,96.60 276.60,101.97 271.23,96.60 271.23,96.60" fill="#5aad0f" stroke="#5aad0f" stroke-width="0.3"/>
<polygon points="294.00,90.83 299.28,99.97 288.72,99.97" fill="none" stroke="#ffa8d6" stroke-width="0.80" stroke-opacity="0.3"/><polygon points="297.52,96.92 299.28,99.97 288.72,99.97 290.48,96.92" fill="#ffa8d6" stroke="#ffa8d6" stroke-width="0.3"/>
<polygon points="311.30,92.14 315.34,94.47 315.34,99.13 311.30,101.46 307.26,99.13 307.26,94.47" fill="none" stroke="#3ef2b4" stroke-width="0.80" stroke-opacity="0.3"/><polygon points="315.34,96.80 315.34,99.13 311.30,101.46 307.26,99.13 307.26,96.80" fill="#3ef2b4" stroke="#3ef2b4" stroke-width="0.3"/>
<polygon points="259.20,103.06 260.41,106.42 263.97,106.53 261.16,108.71 262.15,112.14 259.20,110.14 256.25,112.14 257.24,108.71 254.43,106.53 257.99,106.42" fill="none" stroke="#f578ae" stroke-width="0.80" stroke-opacity="0.3"/><polygon points="259.20,103.06 260.41,106.42 263.97,106.53 261.97,108.08 256.43,108.08 254.43,106.53 257.99,106.42" fill="#f578ae" stroke="#f578ae" stroke-width="0.3"/>
<polygon points="280.74,108.20 280.69,108.85 280.53,109.48 280.29,110.08 279.95,110.63 279.52,111.12 279.03,111.55 278.48,111.89 277.88,112.13 277.25,112.29 276.60,112.34 275.95,112.29 275.32,112.13 274.72,111.89 274.17,111.55 273.68,111.12 273.25,110.63 272.91,110.08 272.67,109.48 272.51,108.85 272.46,108.20 272.51,107.55 272.67,106.92 272.91,106.32 273.25,105.77 273.68,105.28 274.17,104.85 274.72,104.51 275.32,104.27 275.95,104.11 276.60,104.06 277.25,104.11 277.88,104.27 278.48,104.51 279.03,104.85 279.52,105.28 279.95,105.77 280.29,106.32 280.53,106.92 280.69,107.55" fill="none" stroke="#d45f5f" stroke-width="0.80" stroke-opacity="0.3"/><polygon points="280.74,108.20 280.69,108.85 280.53,109.48 280.29,110.08 279.95,110.63 279.52,111.12 279.03,111.55 278.48,111.89 277.88,112.13 277.25,112.29 276.60,112.34 275.95,112.29 275.32,112.13 274.72,111.89 274.17,111.55 273.68,111.12 273.25,110.63 272.91,110.08 272.67,109.48 272.51,108.85 272.46,108.20 272.46,108.20 280.74,108.20" fill="#d45f5f" stroke="#d45f5f" stroke-width="0.3"/>
<polygon points="293.90,103.34 298.59,106.75 296.80,112.26 291.00,112.26 289.21,106.75" fill="none" stroke="#dba449" stroke-width="0.80" stroke-opacity="0.3"/><polygon points="293.90,103.34 298.59,106.75 298.09,108.27 289.71,108.27 289.21,106.75" fill="#dba449" stroke="#dba449" stroke-width="0.3"/>
<rect x="40" y="16.4" width="285.5" height="213" fill="none" stroke="#262626" stroke-width="1.25"/>
<line x1="54.30" y1="229.4" x2="54.30" y2="225.6" stroke="#262626" stroke-width="1"/>
<text transform="translate(54.30 245.60) scale(1 1.090)"   font-size="14.3"  text-anchor="middle" font-family="Liberation Sans, sans-serif" fill="#1c1c1c">0.0</text>
<line x1="112.15" y1="229.4" x2="112.15" y2="225.6" stroke="#262626" stroke-width="1"/>
<text transform="translate(112.15 245.60) scale(1 1.090)"   font-size="14.3"  text-anchor="middle" font-family="Liberation Sans, sans-serif" fill="#1c1c1c">0.1</text>
<line x1="170.00" y1="229.4" x2="170.00" y2="225.6" stroke="#262626" stroke-width="1"/>
<text transform="translate(170.00 245.60) scale(1 1.090)"   font-size="14.3"  text-anchor="middle" font-family="Liberation Sans, sans-serif" fill="#1c1c1c">0.2</text>
<line x1="227.85" y1="229.4" x2="227.85" y2="225.6" stroke="#262626" stroke-width="1"/>
<text transform="translate(227.85 245.60) scale(1 1.090)"   font-size="14.3"  text-anchor="middle" font-family="Liberation Sans, sans-serif" fill="#1c1c1c">0.3</text>
<line x1="285.70" y1="229.4" x2="285.70" y2="225.6" stroke="#262626" stroke-width="1"/>
<text transform="translate(285.70 245.60) scale(1 1.090)"   font-size="14.3"  text-anchor="middle" font-family="Liberation Sans, sans-serif" fill="#1c1c1c">0.4</text>
<line x1="40" y1="43.10" x2="44" y2="43.10" stroke="#262626" stroke-width="1"/>
<text transform="translate(35.00 48.10) scale(1 1.090)"   font-size="14.3"  text-anchor="end" font-family="Liberation Sans, sans-serif" fill="#1c1c1c">26</text>
<line x1="40" y1="96.27" x2="44" y2="96.27" stroke="#262626" stroke-width="1"/>
<text transform="translate(35.00 101.27) scale(1 1.090)"   font-size="14.3"  text-anchor="end" font-family="Liberation Sans, sans-serif" fill="#1c1c1c">25</text>
<line x1="40" y1="149.44" x2="44" y2="149.44" stroke="#262626" stroke-width="1"/>
<text transform="translate(35.00 154.44) scale(1 1.090)"   font-size="14.3"  text-anchor="end" font-family="Liberation Sans, sans-serif" fill="#1c1c1c">24</text>
<line x1="40" y1="202.61" x2="44" y2="202.61" stroke="#262626" stroke-width="1"/>
<text transform="translate(35.00 207.61) scale(1 1.090)"   font-size="14.3"  text-anchor="end" font-family="Liberation Sans, sans-serif" fill="#1c1c1c">23</text>
<text transform="translate(182.60 268.60) scale(1 1.100)"   font-size="15" word-spacing="0.5" text-anchor="middle" font-family="Liberation Sans, sans-serif" fill="#1c1c1c">Sb content <tspan font-style="italic">x</tspan></text>
<text transform="translate(10.8 122.3) rotate(-90) scale(1 1.100)" font-size="15" text-anchor="middle" font-family="Liberation Sans, sans-serif" fill="#1c1c1c"><tspan font-style="italic">T</tspan><tspan font-size="10" dx="-0.8" dy="3.5">N</tspan><tspan dy="-3.5"> (K)</tspan></text>
<text transform="translate(5.00 14.80) scale(1 1.000)"    font-size="20" font-weight="bold" font-family="Liberation Sans, sans-serif" fill="#000">a</text>
<g clip-path="url(#cb)">
<polygon points="380,0.45 700,190.85 700,204.75 380,14.35" fill="#fddec1"/>
</g>
<polygon points="423.80,33.60 429.80,44.00 417.80,44.00" fill="none" stroke="#1f63e6" stroke-width="0.80" stroke-opacity="0.3"/><polygon points="423.80,33.60 423.80,33.60 423.80,44.00 417.80,44.00" fill="#1f63e6" stroke="#1f63e6" stroke-width="0.3"/>
<polygon points="423.80,39.20 429.80,49.60 417.80,49.60" fill="none" stroke="#1f63e6" stroke-width="0.80" stroke-opacity="0.3"/><polygon points="423.80,39.20 423.80,39.20 423.80,49.60 417.80,49.60" fill="#1f63e6" stroke="#1f63e6" stroke-width="0.3"/>
<polygon points="423.80,37.90 429.90,44.00 423.80,50.10 417.70,44.00" fill="none" stroke="#b57be3" stroke-width="0.80" stroke-opacity="0.3"/><polygon points="423.80,37.90 429.90,44.00 423.80,50.10 423.80,50.10 423.80,37.90" fill="#b57be3" stroke="#b57be3" stroke-width="0.3"/>
<polygon points="416.80,51.90 427.20,45.90 427.20,57.90" fill="none" stroke="#8000ff" stroke-width="0.80" stroke-opacity="0.3"/><polygon points="423.73,47.90 427.20,45.90 427.20,57.90 423.73,55.90" fill="#8000ff" stroke="#8000ff" stroke-width="0.3"/>
<polygon points="474.50,60.90 480.50,71.30 468.50,71.30" fill="none" stroke="#ffa8d6" stroke-width="0.80" stroke-opacity="0.3"/><polygon points="478.50,67.83 480.50,71.30 468.50,71.30 470.50,67.83" fill="#ffa8d6" stroke="#ffa8d6" stroke-width="0.3"/>
<polygon points="483.90,67.00 489.90,77.40 477.90,77.40" fill="none" stroke="#ffa8d6" stroke-width="0.80" stroke-opacity="0.3"/><polygon points="487.90,73.93 489.90,77.40 477.90,77.40 479.90,73.93" fill="#ffa8d6" stroke="#ffa8d6" stroke-width="0.3"/>
<polygon points="484.70,73.10 490.70,83.50 478.70,83.50" fill="none" stroke="#ffa8d6" stroke-width="0.80" stroke-opacity="0.3"/><polygon points="488.70,80.03 490.70,83.50 478.70,83.50 480.70,80.03" fill="#ffa8d6" stroke="#ffa8d6" stroke-width="0.3"/>
<polygon points="423.40,64.64 424.77,68.45 428.82,68.58 425.62,71.07 426.75,74.96 423.40,72.68 420.05,74.96 421.18,71.07 417.98,68.58 422.03,68.45" fill="none" stroke="#8b8b16" stroke-width="0.80" stroke-opacity="0.3"/><polygon points="423.40,64.64 424.77,68.45 428.82,68.58 425.62,71.07 426.75,74.96 423.40,72.68 423.40,72.68 423.40,64.64" fill="#8b8b16" stroke="#8b8b16" stroke-width="0.3"/>
<polygon points="459.20,100.24 460.57,104.05 464.62,104.18 461.42,106.67 462.55,110.56 459.20,108.28 455.85,110.56 456.98,106.67 453.78,104.18 457.83,104.05" fill="none" stroke="#8b8b16" stroke-width="0.80" stroke-opacity="0.3"/><polygon points="459.20,100.24 460.57,104.05 464.62,104.18 461.42,106.67 462.55,110.56 459.20,108.28 459.20,108.28 459.20,100.24" fill="#8b8b16" stroke="#8b8b16" stroke-width="0.3"/>
<polygon points="498.00,94.24 499.37,98.05 503.42,98.18 500.22,100.67 501.35,104.56 498.00,102.28 494.65,104.56 495.78,100.67 492.58,98.18 496.63,98.05" fill="none" stroke="#8b8b16" stroke-width="0.80" stroke-opacity="0.3"/><polygon points="498.00,94.24 499.37,98.05 503.42,98.18 500.22,100.67 501.35,104.56 498.00,102.28 498.00,102.28 498.00,94.24" fill="#8b8b16" stroke="#8b8b16" stroke-width="0.3"/>
<polygon points="502.90,108.60 502.84,109.34 502.67,110.05 502.39,110.73 502.00,111.36 501.52,111.92 500.96,112.40 500.33,112.79 499.65,113.07 498.94,113.24 498.20,113.30 497.46,113.24 496.75,113.07 496.07,112.79 495.44,112.40 494.88,111.92 494.40,111.36 494.01,110.73 493.73,110.05 493.56,109.34 493.50,108.60 493.56,107.86 493.73,107.15 494.01,106.47 494.40,105.84 494.88,105.28 495.44,104.80 496.07,104.41 496.75,104.13 497.46,103.96 498.20,103.90 498.94,103.96 499.65,104.13 500.33,104.41 500.96,104.80 501.52,105.28 502.00,105.84 502.39,106.47 502.67,107.15 502.84,107.86" fill="none" stroke="#16a2e0" stroke-width="0.80" stroke-opacity="0.3"/><polygon points="502.90,108.60 502.84,109.34 502.67,110.05 502.39,110.73 502.00,111.36 501.52,111.92 500.96,112.40 500.33,112.79 499.65,113.07 498.94,113.24 498.20,113.30 498.20,113.30 498.20,103.90 498.20,103.90 498.94,103.96 499.65,104.13 500.33,104.41 500.96,104.80 501.52,105.28 502.00,105.84 502.39,106.47 502.67,107.15 502.84,107.86" fill="#16a2e0" stroke="#16a2e0" stroke-width="0.3"/>
<polygon points="485.00,126.43 490.33,130.30 488.29,136.57 481.71,136.57 479.67,130.30" fill="none" stroke="#dba449" stroke-width="0.80" stroke-opacity="0.3"/><polygon points="485.00,126.43 490.33,130.30 489.76,132.03 480.24,132.03 479.67,130.30" fill="#dba449" stroke="#dba449" stroke-width="0.3"/>
<polygon points="479.30,132.20 489.70,138.20 479.30,144.20" fill="none" stroke="#15c5c8" stroke-width="0.80" stroke-opacity="0.3"/><polygon points="482.77,134.20 489.70,138.20 482.77,142.20" fill="#15c5c8" stroke="#15c5c8" stroke-width="0.3"/>
<polygon points="493.80,128.40 504.20,122.40 504.20,134.40" fill="none" stroke="#8000ff" stroke-width="0.80" stroke-opacity="0.3"/><polygon points="500.73,124.40 504.20,122.40 504.20,134.40 500.73,132.40" fill="#8000ff" stroke="#8000ff" stroke-width="0.3"/>
<polygon points="516.00,125.50 522.00,135.90 510.00,135.90" fill="none" stroke="#ffa8d6" stroke-width="0.80" stroke-opacity="0.3"/><polygon points="520.00,132.43 522.00,135.90 510.00,135.90 512.00,132.43" fill="#ffa8d6" stroke="#ffa8d6" stroke-width="0.3"/>
<polygon points="503.00,136.20 513.40,142.20 503.00,148.20" fill="none" stroke="#15c5c8" stroke-width="0.80" stroke-opacity="0.3"/><polygon points="506.47,138.20 513.40,142.20 506.47,146.20" fill="#15c5c8" stroke="#15c5c8" stroke-width="0.3"/>
<polygon points="518.30,136.04 519.67,139.85 523.72,139.98 520.52,142.47 521.65,146.36 518.30,144.08 514.95,146.36 516.08,142.47 512.88,139.98 516.93,139.85" fill="none" stroke="#8b8b16" stroke-width="0.80" stroke-opacity="0.3"/><polygon points="518.30,136.04 519.67,139.85 523.72,139.98 520.52,142.47 521.65,146.36 518.30,144.08 518.30,144.08 518.30,136.04" fill="#8b8b16" stroke="#8b8b16" stroke-width="0.3"/>
<polygon points="419.90,134.90 430.30,140.90 419.90,146.90" fill="none" stroke="#15c5c8" stroke-width="0.80" stroke-opacity="0.3"/><polygon points="423.37,136.90 430.30,140.90 423.37,144.90" fill="#15c5c8" stroke="#15c5c8" stroke-width="0.3"/>
<polygon points="542.20,131.24 543.57,135.05 547.62,135.18 544.42,137.67 545.55,141.56 542.20,139.28 538.85,141.56 539.98,137.67 536.78,135.18 540.83,135.05" fill="none" stroke="#8b8b16" stroke-width="0.80" stroke-opacity="0.3"/><polygon points="542.20,131.24 543.57,135.05 547.62,135.18 544.42,137.67 545.55,141.56 542.20,139.28 542.20,139.28 542.20,131.24" fill="#8b8b16" stroke="#8b8b16" stroke-width="0.3"/>
<polygon points="535.20,151.30 545.60,145.30 545.60,157.30" fill="none" stroke="#8000ff" stroke-width="0.80" stroke-opacity="0.3"/><polygon points="542.13,147.30 545.60,145.30 545.60,157.30 542.13,155.30" fill="#8000ff" stroke="#8000ff" stroke-width="0.3"/>
<polygon points="566.80,148.14 568.17,151.95 572.22,152.08 569.02,154.57 570.15,158.46 566.80,156.18 563.45,158.46 564.58,154.57 561.38,152.08 565.43,151.95" fill="none" stroke="#8b8b16" stroke-width="0.80" stroke-opacity="0.3"/><polygon points="566.80,148.14 568.17,151.95 572.22,152.08 569.02,154.57 570.15,158.46 566.80,156.18 566.80,156.18 566.80,148.14" fill="#8b8b16" stroke="#8b8b16" stroke-width="0.3"/>
<polygon points="588.60,170.34 589.97,174.15 594.02,174.28 590.82,176.77 591.95,180.66 588.60,178.38 585.25,180.66 586.38,176.77 583.18,174.28 587.23,174.15" fill="none" stroke="#8b8b16" stroke-width="0.80" stroke-opacity="0.3"/><polygon points="588.60,170.34 589.97,174.15 594.02,174.28 590.82,176.77 591.95,180.66 588.60,178.38 588.60,178.38 588.60,170.34" fill="#8b8b16" stroke="#8b8b16" stroke-width="0.3"/>
<polygon points="595.10,170.70 605.50,164.70 605.50,176.70" fill="none" stroke="#8000ff" stroke-width="0.80" stroke-opacity="0.3"/><polygon points="602.03,166.70 605.50,164.70 605.50,176.70 602.03,174.70" fill="#8000ff" stroke="#8000ff" stroke-width="0.3"/>
<polygon points="610.50,180.30 616.50,190.70 604.50,190.70" fill="none" stroke="#ffa8d6" stroke-width="0.80" stroke-opacity="0.3"/><polygon points="614.50,187.23 616.50,190.70 604.50,190.70 606.50,187.23" fill="#ffa8d6" stroke="#ffa8d6" stroke-width="0.3"/>
<polygon points="611.00,191.34 612.37,195.15 616.42,195.28 613.22,197.77 614.35,201.66 611.00,199.38 607.65,201.66 608.78,197.77 605.58,195.28 609.63,195.15" fill="none" stroke="#8b8b16" stroke-width="0.80" stroke-opacity="0.3"/><polygon points="611.00,191.34 612.37,195.15 616.42,195.28 613.22,197.77 614.35,201.66 611.00,199.38 611.00,199.38 611.00,191.34" fill="#8b8b16" stroke="#8b8b16" stroke-width="0.3"/>
<polygon points="628.00,179.24 629.37,183.05 633.42,183.18 630.22,185.67 631.35,189.56 628.00,187.28 624.65,189.56 625.78,185.67 622.58,183.18 626.63,183.05" fill="none" stroke="#8b8b16" stroke-width="0.80" stroke-opacity="0.3"/><polygon points="628.00,179.24 629.37,183.05 633.42,183.18 630.22,185.67 631.35,189.56 628.00,187.28 628.00,187.28 628.00,179.24" fill="#8b8b16" stroke="#8b8b16" stroke-width="0.3"/>
<polygon points="538.80,194.00 549.20,200.00 538.80,206.00" fill="none" stroke="#15c5c8" stroke-width="0.80" stroke-opacity="0.3"/><polygon points="542.27,196.00 549.20,200.00 542.27,204.00" fill="#15c5c8" stroke="#15c5c8" stroke-width="0.3"/>
<polygon points="660.80,212.84 662.17,216.65 666.22,216.78 663.02,219.27 664.15,223.16 660.80,220.88 657.45,223.16 658.58,219.27 655.38,216.78 659.43,216.65" fill="none" stroke="#8b8b16" stroke-width="0.80" stroke-opacity="0.3"/><polygon points="660.80,212.84 662.17,216.65 666.22,216.78 663.02,219.27 664.15,223.16 660.80,220.88 660.80,220.88 660.80,212.84" fill="#8b8b16" stroke="#8b8b16" stroke-width="0.3"/>
<polygon points="419.20,32.70 427.40,32.70 427.40,40.90 419.20,40.90" fill="none" stroke="#f4561d" stroke-width="0.80" stroke-opacity="0.3"/><polygon points="423.30,32.70 427.40,32.70 427.40,40.90 423.30,40.90" fill="#f4561d" stroke="#f4561d" stroke-width="0.3"/>
<polygon points="428.90,35.70 437.10,35.70 437.10,43.90 428.90,43.90" fill="none" stroke="#f4561d" stroke-width="0.80" stroke-opacity="0.3"/><polygon points="433.00,35.70 437.10,35.70 437.10,43.90 433.00,43.90" fill="#f4561d" stroke="#f4561d" stroke-width="0.3"/>
<polygon points="447.90,42.40 456.10,42.40 456.10,50.60 447.90,50.60" fill="none" stroke="#f4561d" stroke-width="0.80" stroke-opacity="0.3"/><polygon points="452.00,42.40 456.10,42.40 456.10,50.60 452.00,50.60" fill="#f4561d" stroke="#f4561d" stroke-width="0.3"/>
<polygon points="457.40,48.70 465.60,48.70 465.60,56.90 457.40,56.90" fill="none" stroke="#f4561d" stroke-width="0.80" stroke-opacity="0.3"/><polygon points="461.50,48.70 465.60,48.70 465.60,56.90 461.50,56.90" fill="#f4561d" stroke="#f4561d" stroke-width="0.3"/>
<polygon points="462.00,55.90 470.20,55.90 470.20,64.10 462.00,64.10" fill="none" stroke="#f4561d" stroke-width="0.80" stroke-opacity="0.3"/><polygon points="466.10,55.90 470.20,55.90 470.20,64.10 466.10,64.10" fill="#f4561d" stroke="#f4561d" stroke-width="0.3"/>
<polygon points="466.70,57.70 474.90,57.70 474.90,65.90 466.70,65.90" fill="none" stroke="#f4561d" stroke-width="0.80" stroke-opacity="0.3"/><polygon points="470.80,57.70 474.90,57.70 474.90,65.90 470.80,65.90" fill="#f4561d" stroke="#f4561d" stroke-width="0.3"/>
<polygon points="469.10,60.30 477.30,60.30 477.30,68.50 469.10,68.50" fill="none" stroke="#f4561d" stroke-width="0.80" stroke-opacity="0.3"/><polygon points="473.20,60.30 477.30,60.30 477.30,68.50 473.20,68.50" fill="#f4561d" stroke="#f4561d" stroke-width="0.3"/>
<polygon points="475.90,62.80 484.10,62.80 484.10,71.00 475.90,71.00" fill="none" stroke="#f4561d" stroke-width="0.80" stroke-opacity="0.3"/><polygon points="480.00,62.80 484.10,62.80 484.10,71.00 480.00,71.00" fill="#f4561d" stroke="#f4561d" stroke-width="0.3"/>
<polygon points="481.10,70.20 489.30,70.20 489.30,78.40 481.10,78.40" fill="none" stroke="#f4561d" stroke-width="0.80" stroke-opacity="0.3"/><polygon points="485.20,70.20 489.30,70.20 489.30,78.40 485.20,78.40" fill="#f4561d" stroke="#f4561d" stroke-width="0.3"/>
<rect x="598" y="25.4" width="76.5" height="54.8" fill="#ffffff" stroke="#d2cbe9" stroke-width="1.1"/>
<text transform="translate(602.80 38.30) scale(1 1.100)"   font-size="11.4" letter-spacing="0.03" word-spacing="1.2" font-family="Liberation Sans, sans-serif" fill="#1c1c1c">This work:</text>
<polygon points="661.51,31.11 668.89,31.11 668.89,38.49 661.51,38.49" fill="none" stroke="#f4561d" stroke-width="0.80" stroke-opacity="0.3"/><polygon points="665.20,31.11 668.89,31.11 668.89,38.49 665.20,38.49" fill="#f4561d" stroke="#f4561d" stroke-width="0.3"/>
<text transform="translate(602.80 52.50) scale(1 1.100)"   font-size="11.4" letter-spacing="0.03" word-spacing="1.2" font-family="Liberation Sans, sans-serif" fill="#1c1c1c">Other works:</text>
<polygon points="612.10,56.73 617.38,65.87 606.82,65.87" fill="none" stroke="#1f63e6" stroke-width="0.80" stroke-opacity="0.3"/><polygon points="612.10,56.73 612.10,56.73 612.10,65.87 606.82,65.87" fill="#1f63e6" stroke="#1f63e6" stroke-width="0.3"/>
<polygon points="629.20,55.93 634.57,61.30 629.20,66.67 623.83,61.30" fill="none" stroke="#b57be3" stroke-width="0.80" stroke-opacity="0.3"/><polygon points="629.20,55.93 634.57,61.30 629.20,66.67 629.20,66.67 629.20,55.93" fill="#b57be3" stroke="#b57be3" stroke-width="0.3"/>
<polygon points="640.73,61.30 649.87,56.02 649.87,66.58" fill="none" stroke="#8000ff" stroke-width="0.80" stroke-opacity="0.3"/><polygon points="646.82,57.78 649.87,56.02 649.87,66.58 646.82,64.82" fill="#8000ff" stroke="#8000ff" stroke-width="0.3"/>
<polygon points="660.73,56.02 669.87,61.30 660.73,66.58" fill="none" stroke="#15c5c8" stroke-width="0.80" stroke-opacity="0.3"/><polygon points="663.78,57.78 669.87,61.30 663.78,64.82" fill="#15c5c8" stroke="#15c5c8" stroke-width="0.3"/>
<polygon points="612.00,68.46 613.21,71.82 616.77,71.93 613.96,74.11 614.95,77.54 612.00,75.54 609.05,77.54 610.04,74.11 607.23,71.93 610.79,71.82" fill="none" stroke="#8b8b16" stroke-width="0.80" stroke-opacity="0.3"/><polygon points="612.00,68.46 613.21,71.82 616.77,71.93 613.96,74.11 614.95,77.54 612.00,75.54 612.00,75.54 612.00,68.46" fill="#8b8b16" stroke="#8b8b16" stroke-width="0.3"/>
<polygon points="633.34,73.00 633.29,73.65 633.13,74.28 632.89,74.88 632.55,75.43 632.12,75.92 631.63,76.35 631.08,76.69 630.48,76.93 629.85,77.09 629.20,77.14 628.55,77.09 627.92,76.93 627.32,76.69 626.77,76.35 626.28,75.92 625.85,75.43 625.51,74.88 625.27,74.28 625.11,73.65 625.06,73.00 625.11,72.35 625.27,71.72 625.51,71.12 625.85,70.57 626.28,70.08 626.77,69.65 627.32,69.31 627.92,69.07 628.55,68.91 629.20,68.86 629.85,68.91 630.48,69.07 631.08,69.31 631.63,69.65 632.12,70.08 632.55,70.57 632.89,71.12 633.13,71.72 633.29,72.35" fill="none" stroke="#16a2e0" stroke-width="0.80" stroke-opacity="0.3"/><polygon points="633.34,73.00 633.29,73.65 633.13,74.28 632.89,74.88 632.55,75.43 632.12,75.92 631.63,76.35 631.08,76.69 630.48,76.93 629.85,77.09 629.20,77.14 629.20,77.14 629.20,68.86 629.20,68.86 629.85,68.91 630.48,69.07 631.08,69.31 631.63,69.65 632.12,70.08 632.55,70.57 632.89,71.12 633.13,71.72 633.29,72.35" fill="#16a2e0" stroke="#16a2e0" stroke-width="0.3"/>
<polygon points="646.20,68.33 651.48,77.47 640.92,77.47" fill="none" stroke="#ffa8d6" stroke-width="0.80" stroke-opacity="0.3"/><polygon points="649.72,74.42 651.48,77.47 640.92,77.47 642.68,74.42" fill="#ffa8d6" stroke="#ffa8d6" stroke-width="0.3"/>
<polygon points="663.90,68.54 668.59,71.95 666.80,77.46 661.00,77.46 659.21,71.95" fill="none" stroke="#dba449" stroke-width="0.80" stroke-opacity="0.3"/><polygon points="663.90,68.54 668.59,71.95 668.09,73.47 659.71,73.47 659.21,71.95" fill="#dba449" stroke="#dba449" stroke-width="0.3"/>
<rect x="399.5" y="16.6" width="285" height="214.8" fill="none" stroke="#262626" stroke-width="1.25"/>
<line x1="423.60" y1="231.4" x2="423.60" y2="227.6" stroke="#262626" stroke-width="1"/>
<text transform="translate(423.60 247.40) scale(1 1.090)"   font-size="14.3"  text-anchor="middle" font-family="Liberation Sans, sans-serif" fill="#1c1c1c">0.0</text>
<line x1="471.04" y1="231.4" x2="471.04" y2="227.6" stroke="#262626" stroke-width="1"/>
<text transform="translate(471.04 247.40) scale(1 1.090)"   font-size="14.3"  text-anchor="middle" font-family="Liberation Sans, sans-serif" fill="#1c1c1c">0.2</text>
<line x1="518.48" y1="231.4" x2="518.48" y2="227.6" stroke="#262626" stroke-width="1"/>
<text transform="translate(518.48 247.40) scale(1 1.090)"   font-size="14.3"  text-anchor="middle" font-family="Liberation Sans, sans-serif" fill="#1c1c1c">0.4</text>
<line x1="565.92" y1="231.4" x2="565.92" y2="227.6" stroke="#262626" stroke-width="1"/>
<text transform="translate(565.92 247.40) scale(1 1.090)"   font-size="14.3"  text-anchor="middle" font-family="Liberation Sans, sans-serif" fill="#1c1c1c">0.6</text>
<line x1="613.36" y1="231.4" x2="613.36" y2="227.6" stroke="#262626" stroke-width="1"/>
<text transform="translate(613.36 247.40) scale(1 1.090)"   font-size="14.3"  text-anchor="middle" font-family="Liberation Sans, sans-serif" fill="#1c1c1c">0.8</text>
<line x1="660.80" y1="231.4" x2="660.80" y2="227.6" stroke="#262626" stroke-width="1"/>
<text transform="translate(660.80 247.40) scale(1 1.090)"   font-size="14.3"  text-anchor="middle" font-family="Liberation Sans, sans-serif" fill="#1c1c1c">1.0</text>
<line x1="399.5" y1="35.90" x2="403.5" y2="35.90" stroke="#262626" stroke-width="1"/>
<text transform="translate(394.50 40.90) scale(1 1.090)"   font-size="14.3"  text-anchor="end" font-family="Liberation Sans, sans-serif" fill="#1c1c1c">4.0</text>
<line x1="399.5" y1="75.00" x2="403.5" y2="75.00" stroke="#262626" stroke-width="1"/>
<text transform="translate(394.50 80.00) scale(1 1.090)"   font-size="14.3"  text-anchor="end" font-family="Liberation Sans, sans-serif" fill="#1c1c1c">3.5</text>
<line x1="399.5" y1="114.10" x2="403.5" y2="114.10" stroke="#262626" stroke-width="1"/>
<text transform="translate(394.50 119.10) scale(1 1.090)"   font-size="14.3"  text-anchor="end" font-family="Liberation Sans, sans-serif" fill="#1c1c1c">3.0</text>
<line x1="399.5" y1="153.20" x2="403.5" y2="153.20" stroke="#262626" stroke-width="1"/>
<text transform="translate(394.50 158.20) scale(1 1.090)"   font-size="14.3"  text-anchor="end" font-family="Liberation Sans, sans-serif" fill="#1c1c1c">2.5</text>
<line x1="399.5" y1="192.30" x2="403.5" y2="192.30" stroke="#262626" stroke-width="1"/>
<text transform="translate(394.50 197.30) scale(1 1.090)"   font-size="14.3"  text-anchor="end" font-family="Liberation Sans, sans-serif" fill="#1c1c1c">2.0</text>
<line x1="399.5" y1="231.40" x2="403.5" y2="231.40" stroke="#262626" stroke-width="1"/>
<text transform="translate(394.50 236.40) scale(1 1.090)"   font-size="14.3"  text-anchor="end" font-family="Liberation Sans, sans-serif" fill="#1c1c1c">1.5</text>
<text transform="translate(541.80 270.70) scale(1 1.100)"   font-size="15" word-spacing="0.5" text-anchor="middle" font-family="Liberation Sans, sans-serif" fill="#1c1c1c">Sb content <tspan font-style="italic">x</tspan></text>
<text transform="translate(366.3 123.8) rotate(-90) scale(1 1.100)" font-size="15" text-anchor="middle" font-family="Liberation Sans, sans-serif" fill="#1c1c1c"><tspan font-style="italic">M</tspan><tspan font-size="10" dy="3.5">sat</tspan><tspan dy="-3.5"> (</tspan><tspan font-style="italic">&#956;</tspan><tspan font-size="10" dy="3.5">B</tspan><tspan dy="-3.5">/Mn</tspan><tspan font-size="10" dy="-6">2+</tspan><tspan dy="6">)</tspan></text>
<text transform="translate(365.20 14.80) scale(1 1.000)"    font-size="20" font-weight="bold" font-family="Liberation Sans, sans-serif" fill="#000">b</text>
</svg>
</body></html>
